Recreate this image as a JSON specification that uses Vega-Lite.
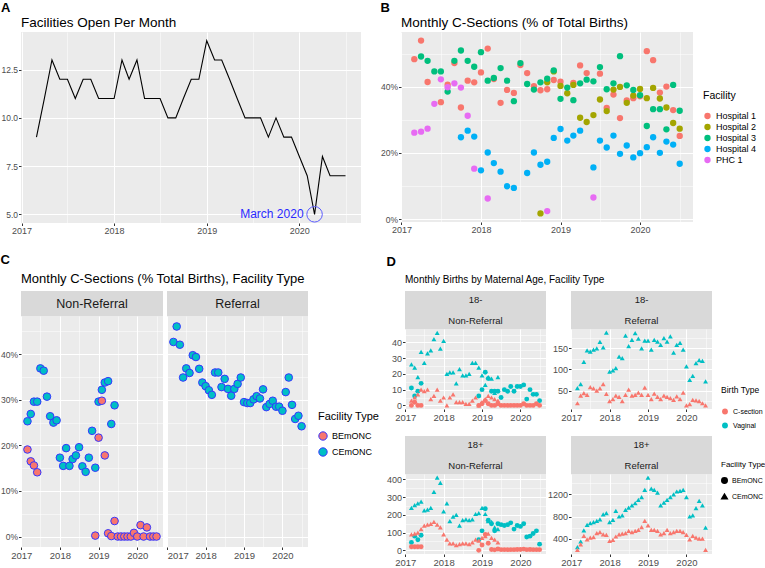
{
"$schema":"https://vega.github.io/schema/vega-lite/v6.json",
"padding":{"left":0,"top":1,"right":0,"bottom":0},
"background":"white",
"config":{
 "font":"Liberation Sans, Arial, sans-serif",
 "view":{"stroke":null},
 "axis":{"domain":false,"labelColor":"#4d4d4d","tickColor":"#333333","tickSize":2.5,"gridColor":"#ffffff","labelPadding":1,"labelFontSize":8.5},
 "title":{"color":"black","fontWeight":"normal"},
 "legend":{"titleFontWeight":"normal","titleColor":"black","labelColor":"black"}
},
"datasets":{
"a":[
{"d":"2017-03","v":9},{"d":"2017-04","v":11},{"d":"2017-05","v":13},{"d":"2017-06","v":12},{"d":"2017-07","v":12},{"d":"2017-08","v":11},{"d":"2017-09","v":12},{"d":"2017-10","v":12},{"d":"2017-11","v":11},{"d":"2017-12","v":11},
{"d":"2018-01","v":11},{"d":"2018-02","v":13},{"d":"2018-03","v":12},{"d":"2018-04","v":13},{"d":"2018-05","v":11},{"d":"2018-06","v":11},{"d":"2018-07","v":11},{"d":"2018-08","v":10},{"d":"2018-09","v":10},{"d":"2018-10","v":11},{"d":"2018-11","v":12},{"d":"2018-12","v":12},
{"d":"2019-01","v":14},{"d":"2019-02","v":13},{"d":"2019-03","v":13},{"d":"2019-04","v":12},{"d":"2019-05","v":11},{"d":"2019-06","v":10},{"d":"2019-07","v":10},{"d":"2019-08","v":10},{"d":"2019-09","v":9},{"d":"2019-10","v":10},{"d":"2019-11","v":9},{"d":"2019-12","v":9},
{"d":"2020-01","v":8},{"d":"2020-02","v":7},{"d":"2020-03","v":5},{"d":"2020-04","v":8},{"d":"2020-05","v":7},{"d":"2020-06","v":7},{"d":"2020-07","v":7}
],
"b":[
{"f":"Hospital 1","d":"2017-03","v":48.3},{"f":"Hospital 1","d":"2017-04","v":53.9},{"f":"Hospital 1","d":"2017-05","v":41.4},{"f":"Hospital 1","d":"2017-07","v":35.3},{"f":"Hospital 1","d":"2017-08","v":40.6},{"f":"Hospital 1","d":"2017-09","v":47.1},{"f":"Hospital 1","d":"2017-10","v":33.7},{"f":"Hospital 1","d":"2017-11","v":41.8},{"f":"Hospital 1","d":"2017-12","v":41.3},
{"f":"Hospital 1","d":"2018-01","v":44.3},{"f":"Hospital 1","d":"2018-02","v":51.5},{"f":"Hospital 1","d":"2018-03","v":42.3},{"f":"Hospital 1","d":"2018-04","v":35.1},{"f":"Hospital 1","d":"2018-05","v":39.0},{"f":"Hospital 1","d":"2018-06","v":38.1},{"f":"Hospital 1","d":"2018-07","v":46.5},{"f":"Hospital 1","d":"2018-08","v":44.1},{"f":"Hospital 1","d":"2018-09","v":40.1},{"f":"Hospital 1","d":"2018-10","v":38.9},{"f":"Hospital 1","d":"2018-11","v":39.2},{"f":"Hospital 1","d":"2018-12","v":42.0},
{"f":"Hospital 1","d":"2019-01","v":41.5},{"f":"Hospital 1","d":"2019-03","v":41.1},{"f":"Hospital 1","d":"2019-04","v":46.4},{"f":"Hospital 1","d":"2019-05","v":44.1},{"f":"Hospital 1","d":"2019-07","v":43.9},{"f":"Hospital 1","d":"2019-08","v":33.6},{"f":"Hospital 1","d":"2019-09","v":37.6},{"f":"Hospital 1","d":"2019-10","v":30.5},{"f":"Hospital 1","d":"2019-11","v":35.8},{"f":"Hospital 1","d":"2019-12","v":36.5},
{"f":"Hospital 1","d":"2020-01","v":37.1},{"f":"Hospital 1","d":"2020-02","v":50.7},{"f":"Hospital 1","d":"2020-03","v":48.0},{"f":"Hospital 1","d":"2020-04","v":38.2},{"f":"Hospital 1","d":"2020-05","v":40.0},{"f":"Hospital 1","d":"2020-06","v":32.9},{"f":"Hospital 1","d":"2020-07","v":25.1},
{"f":"Hospital 2","d":"2018-10","v":1.7},{"f":"Hospital 2","d":"2018-11","v":41.3},{"f":"Hospital 2","d":"2018-12","v":44.6},{"f":"Hospital 2","d":"2019-01","v":40.2},{"f":"Hospital 2","d":"2019-02","v":38.0},{"f":"Hospital 2","d":"2019-03","v":40.5},{"f":"Hospital 2","d":"2019-04","v":30.6},{"f":"Hospital 2","d":"2019-05","v":29.3},{"f":"Hospital 2","d":"2019-06","v":31.4},{"f":"Hospital 2","d":"2019-07","v":36.1},{"f":"Hospital 2","d":"2019-08","v":32.6},{"f":"Hospital 2","d":"2019-09","v":39.1},{"f":"Hospital 2","d":"2019-10","v":39.9},{"f":"Hospital 2","d":"2019-11","v":35.1},{"f":"Hospital 2","d":"2019-12","v":37.3},{"f":"Hospital 2","d":"2020-01","v":39.3},{"f":"Hospital 2","d":"2020-02","v":36.5},{"f":"Hospital 2","d":"2020-03","v":39.6},{"f":"Hospital 2","d":"2020-04","v":36.4},{"f":"Hospital 2","d":"2020-05","v":33.7},{"f":"Hospital 2","d":"2020-06","v":29.0},{"f":"Hospital 2","d":"2020-07","v":27.3},
{"f":"Hospital 3","d":"2017-04","v":49.1},{"f":"Hospital 3","d":"2017-05","v":47.8},{"f":"Hospital 3","d":"2017-06","v":44.6},{"f":"Hospital 3","d":"2017-07","v":44.6},{"f":"Hospital 3","d":"2017-08","v":38.5},{"f":"Hospital 3","d":"2017-09","v":47.8},{"f":"Hospital 3","d":"2017-10","v":50.9},{"f":"Hospital 3","d":"2017-11","v":47.8},{"f":"Hospital 3","d":"2017-12","v":46.0},
{"f":"Hospital 3","d":"2018-01","v":50.4},{"f":"Hospital 3","d":"2018-02","v":41.8},{"f":"Hospital 3","d":"2018-03","v":42.6},{"f":"Hospital 3","d":"2018-04","v":45.6},{"f":"Hospital 3","d":"2018-05","v":41.8},{"f":"Hospital 3","d":"2018-06","v":35.6},{"f":"Hospital 3","d":"2018-07","v":47.1},{"f":"Hospital 3","d":"2018-08","v":40.8},{"f":"Hospital 3","d":"2018-09","v":39.1},{"f":"Hospital 3","d":"2018-10","v":41.3},{"f":"Hospital 3","d":"2018-11","v":42.4},{"f":"Hospital 3","d":"2018-12","v":44.9},
{"f":"Hospital 3","d":"2019-01","v":36.3},{"f":"Hospital 3","d":"2019-02","v":39.7},{"f":"Hospital 3","d":"2019-03","v":35.9},{"f":"Hospital 3","d":"2019-04","v":41.0},{"f":"Hospital 3","d":"2019-05","v":42.1},{"f":"Hospital 3","d":"2019-06","v":41.6},{"f":"Hospital 3","d":"2019-07","v":45.9},{"f":"Hospital 3","d":"2019-08","v":39.2},{"f":"Hospital 3","d":"2019-09","v":41.0},{"f":"Hospital 3","d":"2019-10","v":49.2},{"f":"Hospital 3","d":"2019-11","v":40.4},{"f":"Hospital 3","d":"2019-12","v":39.0},
{"f":"Hospital 3","d":"2020-01","v":37.4},{"f":"Hospital 3","d":"2020-02","v":28.1},{"f":"Hospital 3","d":"2020-03","v":33.2},{"f":"Hospital 3","d":"2020-04","v":33.2},{"f":"Hospital 3","d":"2020-05","v":27.1},{"f":"Hospital 3","d":"2020-06","v":40.5},{"f":"Hospital 3","d":"2020-07","v":32.7},
{"f":"Hospital 4","d":"2017-10","v":24.7},{"f":"Hospital 4","d":"2017-11","v":26.7},{"f":"Hospital 4","d":"2017-12","v":24.9},{"f":"Hospital 4","d":"2018-01","v":14.7},{"f":"Hospital 4","d":"2018-02","v":20.1},{"f":"Hospital 4","d":"2018-03","v":16.9},{"f":"Hospital 4","d":"2018-04","v":14.3},{"f":"Hospital 4","d":"2018-05","v":9.9},{"f":"Hospital 4","d":"2018-06","v":9.4},{"f":"Hospital 4","d":"2018-08","v":13.9},{"f":"Hospital 4","d":"2018-09","v":20.1},{"f":"Hospital 4","d":"2018-10","v":16.4},{"f":"Hospital 4","d":"2018-11","v":17.3},{"f":"Hospital 4","d":"2018-12","v":24.5},
{"f":"Hospital 4","d":"2019-01","v":27.2},{"f":"Hospital 4","d":"2019-02","v":23.7},{"f":"Hospital 4","d":"2019-03","v":25.2},{"f":"Hospital 4","d":"2019-04","v":26.7},{"f":"Hospital 4","d":"2019-06","v":15.6},{"f":"Hospital 4","d":"2019-07","v":23.7},{"f":"Hospital 4","d":"2019-08","v":21.6},{"f":"Hospital 4","d":"2019-09","v":25.2},{"f":"Hospital 4","d":"2019-10","v":19.7},{"f":"Hospital 4","d":"2019-11","v":22.2},{"f":"Hospital 4","d":"2019-12","v":18.6},
{"f":"Hospital 4","d":"2020-01","v":19.9},{"f":"Hospital 4","d":"2020-02","v":21.7},{"f":"Hospital 4","d":"2020-03","v":24.7},{"f":"Hospital 4","d":"2020-04","v":20.0},{"f":"Hospital 4","d":"2020-05","v":23.4},{"f":"Hospital 4","d":"2020-06","v":22.5},{"f":"Hospital 4","d":"2020-07","v":16.7},
{"f":"PHC 1","d":"2017-03","v":26.1},{"f":"PHC 1","d":"2017-04","v":26.4},{"f":"PHC 1","d":"2017-05","v":27.3},{"f":"PHC 1","d":"2017-06","v":34.8},{"f":"PHC 1","d":"2017-07","v":42.2},{"f":"PHC 1","d":"2017-08","v":39.8},{"f":"PHC 1","d":"2017-09","v":41.0},{"f":"PHC 1","d":"2017-10","v":39.7},{"f":"PHC 1","d":"2017-11","v":31.2},{"f":"PHC 1","d":"2017-12","v":15.2},{"f":"PHC 1","d":"2018-02","v":6.2},{"f":"PHC 1","d":"2018-11","v":2.4},{"f":"PHC 1","d":"2019-06","v":6.5}
],
"c":[
{"p":"NR","f":"CEmONC","d":"2017-03","v":25.3},{"p":"NR","f":"CEmONC","d":"2017-04","v":26.9},{"p":"NR","f":"CEmONC","d":"2017-05","v":29.6},{"p":"NR","f":"CEmONC","d":"2017-06","v":29.6},{"p":"NR","f":"CEmONC","d":"2017-07","v":36.9},{"p":"NR","f":"CEmONC","d":"2017-08","v":36.4},{"p":"NR","f":"CEmONC","d":"2017-09","v":30.7},{"p":"NR","f":"CEmONC","d":"2017-10","v":26.4},{"p":"NR","f":"CEmONC","d":"2017-11","v":25.0},{"p":"NR","f":"CEmONC","d":"2017-12","v":25.5},
{"p":"NR","f":"CEmONC","d":"2018-01","v":17.3},{"p":"NR","f":"CEmONC","d":"2018-02","v":15.5},{"p":"NR","f":"CEmONC","d":"2018-03","v":19.4},{"p":"NR","f":"CEmONC","d":"2018-04","v":15.5},{"p":"NR","f":"CEmONC","d":"2018-05","v":17.0},{"p":"NR","f":"CEmONC","d":"2018-06","v":17.8},{"p":"NR","f":"CEmONC","d":"2018-07","v":19.6},{"p":"NR","f":"CEmONC","d":"2018-08","v":15.4},{"p":"NR","f":"CEmONC","d":"2018-09","v":14.2},{"p":"NR","f":"CEmONC","d":"2018-10","v":17.3},{"p":"NR","f":"CEmONC","d":"2018-11","v":23.2},{"p":"NR","f":"CEmONC","d":"2018-12","v":15.1},
{"p":"NR","f":"CEmONC","d":"2019-01","v":29.6},{"p":"NR","f":"CEmONC","d":"2019-02","v":32.2},{"p":"NR","f":"CEmONC","d":"2019-03","v":33.8},{"p":"NR","f":"CEmONC","d":"2019-04","v":34.1},{"p":"NR","f":"CEmONC","d":"2019-05","v":24.7},{"p":"NR","f":"CEmONC","d":"2019-06","v":28.8},
{"p":"NR","f":"BEmONC","d":"2017-03","v":19.1},{"p":"NR","f":"BEmONC","d":"2017-04","v":16.5},{"p":"NR","f":"BEmONC","d":"2017-05","v":15.6},{"p":"NR","f":"BEmONC","d":"2017-06","v":14.1},{"p":"NR","f":"BEmONC","d":"2018-12","v":0.2},{"p":"NR","f":"BEmONC","d":"2019-01","v":21.7},{"p":"NR","f":"BEmONC","d":"2019-02","v":29.8},{"p":"NR","f":"BEmONC","d":"2019-03","v":17.8},{"p":"NR","f":"BEmONC","d":"2019-04","v":0.7},{"p":"NR","f":"BEmONC","d":"2019-05","v":0.1},{"p":"NR","f":"BEmONC","d":"2019-06","v":3.4},{"p":"NR","f":"BEmONC","d":"2019-07","v":0},{"p":"NR","f":"BEmONC","d":"2019-08","v":0},{"p":"NR","f":"BEmONC","d":"2019-09","v":0},{"p":"NR","f":"BEmONC","d":"2019-10","v":0},{"p":"NR","f":"BEmONC","d":"2019-11","v":0},{"p":"NR","f":"BEmONC","d":"2019-12","v":0.8},{"p":"NR","f":"BEmONC","d":"2020-01","v":0},{"p":"NR","f":"BEmONC","d":"2020-02","v":2.5},{"p":"NR","f":"BEmONC","d":"2020-03","v":0},{"p":"NR","f":"BEmONC","d":"2020-04","v":2.0},{"p":"NR","f":"BEmONC","d":"2020-05","v":0},{"p":"NR","f":"BEmONC","d":"2020-06","v":0},{"p":"NR","f":"BEmONC","d":"2020-07","v":0},
{"p":"R","f":"CEmONC","d":"2017-03","v":42.7},{"p":"R","f":"CEmONC","d":"2017-04","v":46.1},{"p":"R","f":"CEmONC","d":"2017-05","v":42.1},{"p":"R","f":"CEmONC","d":"2017-06","v":34.9},{"p":"R","f":"CEmONC","d":"2017-07","v":36.9},{"p":"R","f":"CEmONC","d":"2017-08","v":35.9},{"p":"R","f":"CEmONC","d":"2017-09","v":39.8},{"p":"R","f":"CEmONC","d":"2017-10","v":39.4},{"p":"R","f":"CEmONC","d":"2017-11","v":36.8},{"p":"R","f":"CEmONC","d":"2017-12","v":33.8},
{"p":"R","f":"CEmONC","d":"2018-01","v":33.0},{"p":"R","f":"CEmONC","d":"2018-02","v":32.1},{"p":"R","f":"CEmONC","d":"2018-03","v":31.1},{"p":"R","f":"CEmONC","d":"2018-04","v":36.0},{"p":"R","f":"CEmONC","d":"2018-05","v":36.0},{"p":"R","f":"CEmONC","d":"2018-06","v":32.8},{"p":"R","f":"CEmONC","d":"2018-07","v":34.6},{"p":"R","f":"CEmONC","d":"2018-08","v":32.4},{"p":"R","f":"CEmONC","d":"2018-09","v":30.9},{"p":"R","f":"CEmONC","d":"2018-10","v":32.4},{"p":"R","f":"CEmONC","d":"2018-11","v":33.5},{"p":"R","f":"CEmONC","d":"2018-12","v":34.9},
{"p":"R","f":"CEmONC","d":"2019-01","v":29.5},{"p":"R","f":"CEmONC","d":"2019-02","v":29.3},{"p":"R","f":"CEmONC","d":"2019-03","v":29.3},{"p":"R","f":"CEmONC","d":"2019-04","v":30.1},{"p":"R","f":"CEmONC","d":"2019-05","v":30.8},{"p":"R","f":"CEmONC","d":"2019-06","v":30.3},{"p":"R","f":"CEmONC","d":"2019-07","v":32.3},{"p":"R","f":"CEmONC","d":"2019-08","v":28.4},{"p":"R","f":"CEmONC","d":"2019-09","v":29.1},{"p":"R","f":"CEmONC","d":"2019-10","v":29.8},{"p":"R","f":"CEmONC","d":"2019-11","v":28.5},{"p":"R","f":"CEmONC","d":"2019-12","v":28.5},
{"p":"R","f":"CEmONC","d":"2020-01","v":27.6},{"p":"R","f":"CEmONC","d":"2020-02","v":31.7},{"p":"R","f":"CEmONC","d":"2020-03","v":34.9},{"p":"R","f":"CEmONC","d":"2020-04","v":28.9},{"p":"R","f":"CEmONC","d":"2020-05","v":25.8},{"p":"R","f":"CEmONC","d":"2020-06","v":26.5},{"p":"R","f":"CEmONC","d":"2020-07","v":24.2}
],
"d":[
{"p":"TL","b":"Vaginal","f":"CEmONC","d":"2017-03","v":26},{"p":"TL","b":"Vaginal","f":"CEmONC","d":"2017-04","v":24},{"p":"TL","b":"Vaginal","f":"CEmONC","d":"2017-05","v":18},{"p":"TL","b":"Vaginal","f":"CEmONC","d":"2017-06","v":34},{"p":"TL","b":"Vaginal","f":"CEmONC","d":"2017-07","v":27},{"p":"TL","b":"Vaginal","f":"CEmONC","d":"2017-08","v":33},{"p":"TL","b":"Vaginal","f":"CEmONC","d":"2017-09","v":35},{"p":"TL","b":"Vaginal","f":"CEmONC","d":"2017-10","v":42},{"p":"TL","b":"Vaginal","f":"CEmONC","d":"2017-11","v":46},{"p":"TL","b":"Vaginal","f":"CEmONC","d":"2017-12","v":36},
{"p":"TL","b":"Vaginal","f":"CEmONC","d":"2018-01","v":41},{"p":"TL","b":"Vaginal","f":"CEmONC","d":"2018-02","v":20},{"p":"TL","b":"Vaginal","f":"CEmONC","d":"2018-03","v":21},{"p":"TL","b":"Vaginal","f":"CEmONC","d":"2018-04","v":21},{"p":"TL","b":"Vaginal","f":"CEmONC","d":"2018-05","v":14},{"p":"TL","b":"Vaginal","f":"CEmONC","d":"2018-06","v":23},{"p":"TL","b":"Vaginal","f":"CEmONC","d":"2018-07","v":19},{"p":"TL","b":"Vaginal","f":"CEmONC","d":"2018-08","v":19},{"p":"TL","b":"Vaginal","f":"CEmONC","d":"2018-09","v":20},{"p":"TL","b":"Vaginal","f":"CEmONC","d":"2018-10","v":27},{"p":"TL","b":"Vaginal","f":"CEmONC","d":"2018-11","v":27},{"p":"TL","b":"Vaginal","f":"CEmONC","d":"2018-12","v":24},
{"p":"TL","b":"Vaginal","f":"CEmONC","d":"2019-01","v":19},{"p":"TL","b":"Vaginal","f":"CEmONC","d":"2019-02","v":13},{"p":"TL","b":"Vaginal","f":"CEmONC","d":"2019-03","v":18},{"p":"TL","b":"Vaginal","f":"CEmONC","d":"2019-04","v":17},{"p":"TL","b":"Vaginal","f":"CEmONC","d":"2019-05","v":8},{"p":"TL","b":"Vaginal","f":"CEmONC","d":"2019-06","v":18},
{"p":"TL","b":"Vaginal","f":"BEmONC","d":"2017-03","v":11},{"p":"TL","b":"Vaginal","f":"BEmONC","d":"2017-04","v":6},{"p":"TL","b":"Vaginal","f":"BEmONC","d":"2017-05","v":9},{"p":"TL","b":"Vaginal","f":"BEmONC","d":"2017-06","v":14},{"p":"TL","b":"Vaginal","f":"BEmONC","d":"2018-12","v":6},{"p":"TL","b":"Vaginal","f":"BEmONC","d":"2019-01","v":10},{"p":"TL","b":"Vaginal","f":"BEmONC","d":"2019-02","v":21},{"p":"TL","b":"Vaginal","f":"BEmONC","d":"2019-03","v":17},{"p":"TL","b":"Vaginal","f":"BEmONC","d":"2019-04","v":9},{"p":"TL","b":"Vaginal","f":"BEmONC","d":"2019-05","v":9},{"p":"TL","b":"Vaginal","f":"BEmONC","d":"2019-06","v":9},{"p":"TL","b":"Vaginal","f":"BEmONC","d":"2019-07","v":5},{"p":"TL","b":"Vaginal","f":"BEmONC","d":"2019-08","v":10},{"p":"TL","b":"Vaginal","f":"BEmONC","d":"2019-09","v":9},{"p":"TL","b":"Vaginal","f":"BEmONC","d":"2019-10","v":12},{"p":"TL","b":"Vaginal","f":"BEmONC","d":"2019-11","v":9},{"p":"TL","b":"Vaginal","f":"BEmONC","d":"2019-12","v":12},{"p":"TL","b":"Vaginal","f":"BEmONC","d":"2020-01","v":12},{"p":"TL","b":"Vaginal","f":"BEmONC","d":"2020-02","v":13},{"p":"TL","b":"Vaginal","f":"BEmONC","d":"2020-03","v":4},{"p":"TL","b":"Vaginal","f":"BEmONC","d":"2020-04","v":10},{"p":"TL","b":"Vaginal","f":"BEmONC","d":"2020-05","v":7},{"p":"TL","b":"Vaginal","f":"BEmONC","d":"2020-06","v":7},{"p":"TL","b":"Vaginal","f":"BEmONC","d":"2020-07","v":3},
{"p":"TL","b":"C-section","f":"CEmONC","d":"2017-03","v":3},{"p":"TL","b":"C-section","f":"CEmONC","d":"2017-04","v":5},{"p":"TL","b":"C-section","f":"CEmONC","d":"2017-05","v":7},{"p":"TL","b":"C-section","f":"CEmONC","d":"2017-06","v":10},{"p":"TL","b":"C-section","f":"CEmONC","d":"2017-07","v":9},{"p":"TL","b":"C-section","f":"CEmONC","d":"2017-08","v":10},{"p":"TL","b":"C-section","f":"CEmONC","d":"2017-09","v":4},{"p":"TL","b":"C-section","f":"CEmONC","d":"2017-10","v":6},{"p":"TL","b":"C-section","f":"CEmONC","d":"2017-11","v":10},{"p":"TL","b":"C-section","f":"CEmONC","d":"2017-12","v":3},
{"p":"TL","b":"C-section","f":"CEmONC","d":"2018-01","v":5},{"p":"TL","b":"C-section","f":"CEmONC","d":"2018-02","v":0},{"p":"TL","b":"C-section","f":"CEmONC","d":"2018-03","v":5},{"p":"TL","b":"C-section","f":"CEmONC","d":"2018-04","v":7},{"p":"TL","b":"C-section","f":"CEmONC","d":"2018-05","v":2},{"p":"TL","b":"C-section","f":"CEmONC","d":"2018-06","v":2},{"p":"TL","b":"C-section","f":"CEmONC","d":"2018-07","v":2},{"p":"TL","b":"C-section","f":"CEmONC","d":"2018-08","v":1},{"p":"TL","b":"C-section","f":"CEmONC","d":"2018-09","v":1},{"p":"TL","b":"C-section","f":"CEmONC","d":"2018-10","v":3},{"p":"TL","b":"C-section","f":"CEmONC","d":"2018-11","v":5},{"p":"TL","b":"C-section","f":"CEmONC","d":"2018-12","v":0},
{"p":"TL","b":"C-section","f":"CEmONC","d":"2019-01","v":2},{"p":"TL","b":"C-section","f":"CEmONC","d":"2019-02","v":4},{"p":"TL","b":"C-section","f":"CEmONC","d":"2019-03","v":6},{"p":"TL","b":"C-section","f":"CEmONC","d":"2019-04","v":5},{"p":"TL","b":"C-section","f":"CEmONC","d":"2019-05","v":4},{"p":"TL","b":"C-section","f":"CEmONC","d":"2019-06","v":3},
{"p":"TL","b":"C-section","f":"BEmONC","d":"2017-03","v":0},{"p":"TL","b":"C-section","f":"BEmONC","d":"2017-04","v":2},{"p":"TL","b":"C-section","f":"BEmONC","d":"2017-05","v":0},{"p":"TL","b":"C-section","f":"BEmONC","d":"2017-06","v":0},{"p":"TL","b":"C-section","f":"BEmONC","d":"2018-12","v":0},{"p":"TL","b":"C-section","f":"BEmONC","d":"2019-01","v":1},{"p":"TL","b":"C-section","f":"BEmONC","d":"2019-02","v":3},{"p":"TL","b":"C-section","f":"BEmONC","d":"2019-03","v":1},{"p":"TL","b":"C-section","f":"BEmONC","d":"2019-04","v":0},{"p":"TL","b":"C-section","f":"BEmONC","d":"2019-05","v":0},{"p":"TL","b":"C-section","f":"BEmONC","d":"2019-06","v":1},{"p":"TL","b":"C-section","f":"BEmONC","d":"2019-07","v":0},{"p":"TL","b":"C-section","f":"BEmONC","d":"2019-08","v":0},{"p":"TL","b":"C-section","f":"BEmONC","d":"2019-09","v":0},{"p":"TL","b":"C-section","f":"BEmONC","d":"2019-10","v":0},{"p":"TL","b":"C-section","f":"BEmONC","d":"2019-11","v":0},{"p":"TL","b":"C-section","f":"BEmONC","d":"2019-12","v":0},{"p":"TL","b":"C-section","f":"BEmONC","d":"2020-01","v":0},{"p":"TL","b":"C-section","f":"BEmONC","d":"2020-02","v":1},{"p":"TL","b":"C-section","f":"BEmONC","d":"2020-03","v":0},{"p":"TL","b":"C-section","f":"BEmONC","d":"2020-04","v":0},{"p":"TL","b":"C-section","f":"BEmONC","d":"2020-05","v":0},{"p":"TL","b":"C-section","f":"BEmONC","d":"2020-06","v":1},{"p":"TL","b":"C-section","f":"BEmONC","d":"2020-07","v":0},
{"p":"TR","b":"Vaginal","f":"CEmONC","d":"2017-03","v":56},{"p":"TR","b":"Vaginal","f":"CEmONC","d":"2017-04","v":65},{"p":"TR","b":"Vaginal","f":"CEmONC","d":"2017-05","v":118},{"p":"TR","b":"Vaginal","f":"CEmONC","d":"2017-06","v":145},{"p":"TR","b":"Vaginal","f":"CEmONC","d":"2017-07","v":142},{"p":"TR","b":"Vaginal","f":"CEmONC","d":"2017-08","v":147},{"p":"TR","b":"Vaginal","f":"CEmONC","d":"2017-09","v":150},{"p":"TR","b":"Vaginal","f":"CEmONC","d":"2017-10","v":165},{"p":"TR","b":"Vaginal","f":"CEmONC","d":"2017-11","v":152},{"p":"TR","b":"Vaginal","f":"CEmONC","d":"2017-12","v":187},
{"p":"TR","b":"Vaginal","f":"CEmONC","d":"2018-01","v":95},{"p":"TR","b":"Vaginal","f":"CEmONC","d":"2018-02","v":98},{"p":"TR","b":"Vaginal","f":"CEmONC","d":"2018-03","v":103},{"p":"TR","b":"Vaginal","f":"CEmONC","d":"2018-04","v":130},{"p":"TR","b":"Vaginal","f":"CEmONC","d":"2018-05","v":127},{"p":"TR","b":"Vaginal","f":"CEmONC","d":"2018-06","v":180},{"p":"TR","b":"Vaginal","f":"CEmONC","d":"2018-07","v":155},{"p":"TR","b":"Vaginal","f":"CEmONC","d":"2018-08","v":170},{"p":"TR","b":"Vaginal","f":"CEmONC","d":"2018-09","v":186},{"p":"TR","b":"Vaginal","f":"CEmONC","d":"2018-10","v":173},{"p":"TR","b":"Vaginal","f":"CEmONC","d":"2018-11","v":150},{"p":"TR","b":"Vaginal","f":"CEmONC","d":"2018-12","v":168},
{"p":"TR","b":"Vaginal","f":"CEmONC","d":"2019-01","v":168},{"p":"TR","b":"Vaginal","f":"CEmONC","d":"2019-02","v":147},{"p":"TR","b":"Vaginal","f":"CEmONC","d":"2019-03","v":170},{"p":"TR","b":"Vaginal","f":"CEmONC","d":"2019-04","v":166},{"p":"TR","b":"Vaginal","f":"CEmONC","d":"2019-05","v":158},{"p":"TR","b":"Vaginal","f":"CEmONC","d":"2019-06","v":174},{"p":"TR","b":"Vaginal","f":"CEmONC","d":"2019-07","v":166},{"p":"TR","b":"Vaginal","f":"CEmONC","d":"2019-08","v":178},{"p":"TR","b":"Vaginal","f":"CEmONC","d":"2019-09","v":140},{"p":"TR","b":"Vaginal","f":"CEmONC","d":"2019-10","v":158},{"p":"TR","b":"Vaginal","f":"CEmONC","d":"2019-11","v":163},{"p":"TR","b":"Vaginal","f":"CEmONC","d":"2019-12","v":147},
{"p":"TR","b":"Vaginal","f":"CEmONC","d":"2020-01","v":107},{"p":"TR","b":"Vaginal","f":"CEmONC","d":"2020-02","v":75},{"p":"TR","b":"Vaginal","f":"CEmONC","d":"2020-03","v":85},{"p":"TR","b":"Vaginal","f":"CEmONC","d":"2020-04","v":115},{"p":"TR","b":"Vaginal","f":"CEmONC","d":"2020-05","v":122},{"p":"TR","b":"Vaginal","f":"CEmONC","d":"2020-06","v":120},{"p":"TR","b":"Vaginal","f":"CEmONC","d":"2020-07","v":72},
{"p":"TR","b":"C-section","f":"CEmONC","d":"2017-03","v":20},{"p":"TR","b":"C-section","f":"CEmONC","d":"2017-04","v":38},{"p":"TR","b":"C-section","f":"CEmONC","d":"2017-05","v":44},{"p":"TR","b":"C-section","f":"CEmONC","d":"2017-06","v":40},{"p":"TR","b":"C-section","f":"CEmONC","d":"2017-07","v":58},{"p":"TR","b":"C-section","f":"CEmONC","d":"2017-08","v":55},{"p":"TR","b":"C-section","f":"CEmONC","d":"2017-09","v":50},{"p":"TR","b":"C-section","f":"CEmONC","d":"2017-10","v":55},{"p":"TR","b":"C-section","f":"CEmONC","d":"2017-11","v":65},{"p":"TR","b":"C-section","f":"CEmONC","d":"2017-12","v":42},
{"p":"TR","b":"C-section","f":"CEmONC","d":"2018-01","v":25},{"p":"TR","b":"C-section","f":"CEmONC","d":"2018-02","v":30},{"p":"TR","b":"C-section","f":"CEmONC","d":"2018-03","v":38},{"p":"TR","b":"C-section","f":"CEmONC","d":"2018-04","v":35},{"p":"TR","b":"C-section","f":"CEmONC","d":"2018-05","v":25},{"p":"TR","b":"C-section","f":"CEmONC","d":"2018-06","v":40},{"p":"TR","b":"C-section","f":"CEmONC","d":"2018-07","v":52},{"p":"TR","b":"C-section","f":"CEmONC","d":"2018-08","v":38},{"p":"TR","b":"C-section","f":"CEmONC","d":"2018-09","v":40},{"p":"TR","b":"C-section","f":"CEmONC","d":"2018-10","v":45},{"p":"TR","b":"C-section","f":"CEmONC","d":"2018-11","v":40},{"p":"TR","b":"C-section","f":"CEmONC","d":"2018-12","v":57},
{"p":"TR","b":"C-section","f":"CEmONC","d":"2019-01","v":40},{"p":"TR","b":"C-section","f":"CEmONC","d":"2019-02","v":30},{"p":"TR","b":"C-section","f":"CEmONC","d":"2019-03","v":43},{"p":"TR","b":"C-section","f":"CEmONC","d":"2019-04","v":35},{"p":"TR","b":"C-section","f":"CEmONC","d":"2019-05","v":30},{"p":"TR","b":"C-section","f":"CEmONC","d":"2019-06","v":38},{"p":"TR","b":"C-section","f":"CEmONC","d":"2019-07","v":35},{"p":"TR","b":"C-section","f":"CEmONC","d":"2019-08","v":32},{"p":"TR","b":"C-section","f":"CEmONC","d":"2019-09","v":28},{"p":"TR","b":"C-section","f":"CEmONC","d":"2019-10","v":36},{"p":"TR","b":"C-section","f":"CEmONC","d":"2019-11","v":30},{"p":"TR","b":"C-section","f":"CEmONC","d":"2019-12","v":45},
{"p":"TR","b":"C-section","f":"CEmONC","d":"2020-01","v":15},{"p":"TR","b":"C-section","f":"CEmONC","d":"2020-02","v":18},{"p":"TR","b":"C-section","f":"CEmONC","d":"2020-03","v":28},{"p":"TR","b":"C-section","f":"CEmONC","d":"2020-04","v":27},{"p":"TR","b":"C-section","f":"CEmONC","d":"2020-05","v":25},{"p":"TR","b":"C-section","f":"CEmONC","d":"2020-06","v":20},{"p":"TR","b":"C-section","f":"CEmONC","d":"2020-07","v":15},
{"p":"BL","b":"Vaginal","f":"CEmONC","d":"2017-03","v":240},{"p":"BL","b":"Vaginal","f":"CEmONC","d":"2017-04","v":255},{"p":"BL","b":"Vaginal","f":"CEmONC","d":"2017-05","v":265},{"p":"BL","b":"Vaginal","f":"CEmONC","d":"2017-06","v":275},{"p":"BL","b":"Vaginal","f":"CEmONC","d":"2017-07","v":225},{"p":"BL","b":"Vaginal","f":"CEmONC","d":"2017-08","v":230},{"p":"BL","b":"Vaginal","f":"CEmONC","d":"2017-09","v":240},{"p":"BL","b":"Vaginal","f":"CEmONC","d":"2017-10","v":330},{"p":"BL","b":"Vaginal","f":"CEmONC","d":"2017-11","v":410},{"p":"BL","b":"Vaginal","f":"CEmONC","d":"2017-12","v":380},
{"p":"BL","b":"Vaginal","f":"CEmONC","d":"2018-01","v":220},{"p":"BL","b":"Vaginal","f":"CEmONC","d":"2018-02","v":265},{"p":"BL","b":"Vaginal","f":"CEmONC","d":"2018-03","v":165},{"p":"BL","b":"Vaginal","f":"CEmONC","d":"2018-04","v":190},{"p":"BL","b":"Vaginal","f":"CEmONC","d":"2018-05","v":200},{"p":"BL","b":"Vaginal","f":"CEmONC","d":"2018-06","v":140},{"p":"BL","b":"Vaginal","f":"CEmONC","d":"2018-07","v":170},{"p":"BL","b":"Vaginal","f":"CEmONC","d":"2018-08","v":175},{"p":"BL","b":"Vaginal","f":"CEmONC","d":"2018-09","v":170},{"p":"BL","b":"Vaginal","f":"CEmONC","d":"2018-10","v":175},{"p":"BL","b":"Vaginal","f":"CEmONC","d":"2018-11","v":205},{"p":"BL","b":"Vaginal","f":"CEmONC","d":"2018-12","v":210},
{"p":"BL","b":"Vaginal","f":"CEmONC","d":"2019-01","v":240},{"p":"BL","b":"Vaginal","f":"CEmONC","d":"2019-02","v":205},{"p":"BL","b":"Vaginal","f":"CEmONC","d":"2019-03","v":165},{"p":"BL","b":"Vaginal","f":"CEmONC","d":"2019-04","v":160},{"p":"BL","b":"Vaginal","f":"CEmONC","d":"2019-05","v":130},{"p":"BL","b":"Vaginal","f":"CEmONC","d":"2019-06","v":120},
{"p":"BL","b":"Vaginal","f":"BEmONC","d":"2017-03","v":45},{"p":"BL","b":"Vaginal","f":"BEmONC","d":"2017-04","v":80},{"p":"BL","b":"Vaginal","f":"BEmONC","d":"2017-05","v":60},{"p":"BL","b":"Vaginal","f":"BEmONC","d":"2017-06","v":85},{"p":"BL","b":"Vaginal","f":"BEmONC","d":"2018-12","v":60},{"p":"BL","b":"Vaginal","f":"BEmONC","d":"2019-01","v":110},{"p":"BL","b":"Vaginal","f":"BEmONC","d":"2019-02","v":235},{"p":"BL","b":"Vaginal","f":"BEmONC","d":"2019-03","v":170},{"p":"BL","b":"Vaginal","f":"BEmONC","d":"2019-04","v":150},{"p":"BL","b":"Vaginal","f":"BEmONC","d":"2019-05","v":110},{"p":"BL","b":"Vaginal","f":"BEmONC","d":"2019-06","v":150},{"p":"BL","b":"Vaginal","f":"BEmONC","d":"2019-07","v":145},{"p":"BL","b":"Vaginal","f":"BEmONC","d":"2019-08","v":140},{"p":"BL","b":"Vaginal","f":"BEmONC","d":"2019-09","v":145},{"p":"BL","b":"Vaginal","f":"BEmONC","d":"2019-10","v":155},{"p":"BL","b":"Vaginal","f":"BEmONC","d":"2019-11","v":120},{"p":"BL","b":"Vaginal","f":"BEmONC","d":"2019-12","v":140},{"p":"BL","b":"Vaginal","f":"BEmONC","d":"2020-01","v":135},{"p":"BL","b":"Vaginal","f":"BEmONC","d":"2020-02","v":150},{"p":"BL","b":"Vaginal","f":"BEmONC","d":"2020-03","v":75},{"p":"BL","b":"Vaginal","f":"BEmONC","d":"2020-04","v":80},{"p":"BL","b":"Vaginal","f":"BEmONC","d":"2020-05","v":95},{"p":"BL","b":"Vaginal","f":"BEmONC","d":"2020-06","v":110},{"p":"BL","b":"Vaginal","f":"BEmONC","d":"2020-07","v":35},
{"p":"BL","b":"C-section","f":"CEmONC","d":"2017-03","v":90},{"p":"BL","b":"C-section","f":"CEmONC","d":"2017-04","v":95},{"p":"BL","b":"C-section","f":"CEmONC","d":"2017-05","v":100},{"p":"BL","b":"C-section","f":"CEmONC","d":"2017-06","v":120},{"p":"BL","b":"C-section","f":"CEmONC","d":"2017-07","v":140},{"p":"BL","b":"C-section","f":"CEmONC","d":"2017-08","v":145},{"p":"BL","b":"C-section","f":"CEmONC","d":"2017-09","v":150},{"p":"BL","b":"C-section","f":"CEmONC","d":"2017-10","v":160},{"p":"BL","b":"C-section","f":"CEmONC","d":"2017-11","v":145},{"p":"BL","b":"C-section","f":"CEmONC","d":"2017-12","v":130},
{"p":"BL","b":"C-section","f":"CEmONC","d":"2018-01","v":90},{"p":"BL","b":"C-section","f":"CEmONC","d":"2018-02","v":60},{"p":"BL","b":"C-section","f":"CEmONC","d":"2018-03","v":40},{"p":"BL","b":"C-section","f":"CEmONC","d":"2018-04","v":40},{"p":"BL","b":"C-section","f":"CEmONC","d":"2018-05","v":30},{"p":"BL","b":"C-section","f":"CEmONC","d":"2018-06","v":35},{"p":"BL","b":"C-section","f":"CEmONC","d":"2018-07","v":40},{"p":"BL","b":"C-section","f":"CEmONC","d":"2018-08","v":40},{"p":"BL","b":"C-section","f":"CEmONC","d":"2018-09","v":35},{"p":"BL","b":"C-section","f":"CEmONC","d":"2018-10","v":45},{"p":"BL","b":"C-section","f":"CEmONC","d":"2018-11","v":60},{"p":"BL","b":"C-section","f":"CEmONC","d":"2018-12","v":55},
{"p":"BL","b":"C-section","f":"CEmONC","d":"2019-01","v":70},{"p":"BL","b":"C-section","f":"CEmONC","d":"2019-02","v":80},{"p":"BL","b":"C-section","f":"CEmONC","d":"2019-03","v":95},{"p":"BL","b":"C-section","f":"CEmONC","d":"2019-04","v":70},{"p":"BL","b":"C-section","f":"CEmONC","d":"2019-05","v":60},{"p":"BL","b":"C-section","f":"CEmONC","d":"2019-06","v":45},
{"p":"BL","b":"C-section","f":"BEmONC","d":"2017-03","v":20},{"p":"BL","b":"C-section","f":"BEmONC","d":"2017-04","v":20},{"p":"BL","b":"C-section","f":"BEmONC","d":"2017-05","v":20},{"p":"BL","b":"C-section","f":"BEmONC","d":"2017-06","v":20},{"p":"BL","b":"C-section","f":"BEmONC","d":"2018-12","v":0},{"p":"BL","b":"C-section","f":"BEmONC","d":"2019-01","v":30},{"p":"BL","b":"C-section","f":"BEmONC","d":"2019-02","v":90},{"p":"BL","b":"C-section","f":"BEmONC","d":"2019-03","v":40},{"p":"BL","b":"C-section","f":"BEmONC","d":"2019-04","v":5},{"p":"BL","b":"C-section","f":"BEmONC","d":"2019-05","v":3},{"p":"BL","b":"C-section","f":"BEmONC","d":"2019-06","v":8},{"p":"BL","b":"C-section","f":"BEmONC","d":"2019-07","v":4},{"p":"BL","b":"C-section","f":"BEmONC","d":"2019-08","v":4},{"p":"BL","b":"C-section","f":"BEmONC","d":"2019-09","v":4},{"p":"BL","b":"C-section","f":"BEmONC","d":"2019-10","v":4},{"p":"BL","b":"C-section","f":"BEmONC","d":"2019-11","v":4},{"p":"BL","b":"C-section","f":"BEmONC","d":"2019-12","v":5},{"p":"BL","b":"C-section","f":"BEmONC","d":"2020-01","v":5},{"p":"BL","b":"C-section","f":"BEmONC","d":"2020-02","v":7},{"p":"BL","b":"C-section","f":"BEmONC","d":"2020-03","v":4},{"p":"BL","b":"C-section","f":"BEmONC","d":"2020-04","v":5},{"p":"BL","b":"C-section","f":"BEmONC","d":"2020-05","v":4},{"p":"BL","b":"C-section","f":"BEmONC","d":"2020-06","v":4},{"p":"BL","b":"C-section","f":"BEmONC","d":"2020-07","v":4},
{"p":"BR","b":"Vaginal","f":"CEmONC","d":"2017-03","v":250},{"p":"BR","b":"Vaginal","f":"CEmONC","d":"2017-04","v":350},{"p":"BR","b":"Vaginal","f":"CEmONC","d":"2017-05","v":550},{"p":"BR","b":"Vaginal","f":"CEmONC","d":"2017-06","v":650},{"p":"BR","b":"Vaginal","f":"CEmONC","d":"2017-07","v":680},{"p":"BR","b":"Vaginal","f":"CEmONC","d":"2017-08","v":700},{"p":"BR","b":"Vaginal","f":"CEmONC","d":"2017-09","v":720},{"p":"BR","b":"Vaginal","f":"CEmONC","d":"2017-10","v":750},{"p":"BR","b":"Vaginal","f":"CEmONC","d":"2017-11","v":840},{"p":"BR","b":"Vaginal","f":"CEmONC","d":"2017-12","v":860},
{"p":"BR","b":"Vaginal","f":"CEmONC","d":"2018-01","v":700},{"p":"BR","b":"Vaginal","f":"CEmONC","d":"2018-02","v":740},{"p":"BR","b":"Vaginal","f":"CEmONC","d":"2018-03","v":900},{"p":"BR","b":"Vaginal","f":"CEmONC","d":"2018-04","v":800},{"p":"BR","b":"Vaginal","f":"CEmONC","d":"2018-05","v":820},{"p":"BR","b":"Vaginal","f":"CEmONC","d":"2018-06","v":920},{"p":"BR","b":"Vaginal","f":"CEmONC","d":"2018-07","v":960},{"p":"BR","b":"Vaginal","f":"CEmONC","d":"2018-08","v":1000},{"p":"BR","b":"Vaginal","f":"CEmONC","d":"2018-09","v":1040},{"p":"BR","b":"Vaginal","f":"CEmONC","d":"2018-10","v":1100},{"p":"BR","b":"Vaginal","f":"CEmONC","d":"2018-11","v":1150},{"p":"BR","b":"Vaginal","f":"CEmONC","d":"2018-12","v":1280},
{"p":"BR","b":"Vaginal","f":"CEmONC","d":"2019-01","v":1500},{"p":"BR","b":"Vaginal","f":"CEmONC","d":"2019-02","v":1300},{"p":"BR","b":"Vaginal","f":"CEmONC","d":"2019-03","v":1280},{"p":"BR","b":"Vaginal","f":"CEmONC","d":"2019-04","v":1230},{"p":"BR","b":"Vaginal","f":"CEmONC","d":"2019-05","v":1000},{"p":"BR","b":"Vaginal","f":"CEmONC","d":"2019-06","v":1050},{"p":"BR","b":"Vaginal","f":"CEmONC","d":"2019-07","v":1100},{"p":"BR","b":"Vaginal","f":"CEmONC","d":"2019-08","v":1150},{"p":"BR","b":"Vaginal","f":"CEmONC","d":"2019-09","v":1200},{"p":"BR","b":"Vaginal","f":"CEmONC","d":"2019-10","v":1250},{"p":"BR","b":"Vaginal","f":"CEmONC","d":"2019-11","v":1260},{"p":"BR","b":"Vaginal","f":"CEmONC","d":"2019-12","v":1280},
{"p":"BR","b":"Vaginal","f":"CEmONC","d":"2020-01","v":1150},{"p":"BR","b":"Vaginal","f":"CEmONC","d":"2020-02","v":800},{"p":"BR","b":"Vaginal","f":"CEmONC","d":"2020-03","v":820},{"p":"BR","b":"Vaginal","f":"CEmONC","d":"2020-04","v":950},{"p":"BR","b":"Vaginal","f":"CEmONC","d":"2020-05","v":1080},{"p":"BR","b":"Vaginal","f":"CEmONC","d":"2020-06","v":1000},{"p":"BR","b":"Vaginal","f":"CEmONC","d":"2020-07","v":600},
{"p":"BR","b":"C-section","f":"CEmONC","d":"2017-03","v":200},{"p":"BR","b":"C-section","f":"CEmONC","d":"2017-04","v":300},{"p":"BR","b":"C-section","f":"CEmONC","d":"2017-05","v":450},{"p":"BR","b":"C-section","f":"CEmONC","d":"2017-06","v":390},{"p":"BR","b":"C-section","f":"CEmONC","d":"2017-07","v":420},{"p":"BR","b":"C-section","f":"CEmONC","d":"2017-08","v":430},{"p":"BR","b":"C-section","f":"CEmONC","d":"2017-09","v":500},{"p":"BR","b":"C-section","f":"CEmONC","d":"2017-10","v":520},{"p":"BR","b":"C-section","f":"CEmONC","d":"2017-11","v":480},{"p":"BR","b":"C-section","f":"CEmONC","d":"2017-12","v":470},
{"p":"BR","b":"C-section","f":"CEmONC","d":"2018-01","v":360},{"p":"BR","b":"C-section","f":"CEmONC","d":"2018-02","v":380},{"p":"BR","b":"C-section","f":"CEmONC","d":"2018-03","v":440},{"p":"BR","b":"C-section","f":"CEmONC","d":"2018-04","v":480},{"p":"BR","b":"C-section","f":"CEmONC","d":"2018-05","v":490},{"p":"BR","b":"C-section","f":"CEmONC","d":"2018-06","v":500},{"p":"BR","b":"C-section","f":"CEmONC","d":"2018-07","v":540},{"p":"BR","b":"C-section","f":"CEmONC","d":"2018-08","v":520},{"p":"BR","b":"C-section","f":"CEmONC","d":"2018-09","v":540},{"p":"BR","b":"C-section","f":"CEmONC","d":"2018-10","v":560},{"p":"BR","b":"C-section","f":"CEmONC","d":"2018-11","v":610},{"p":"BR","b":"C-section","f":"CEmONC","d":"2018-12","v":720},
{"p":"BR","b":"C-section","f":"CEmONC","d":"2019-01","v":640},{"p":"BR","b":"C-section","f":"CEmONC","d":"2019-02","v":560},{"p":"BR","b":"C-section","f":"CEmONC","d":"2019-03","v":560},{"p":"BR","b":"C-section","f":"CEmONC","d":"2019-04","v":540},{"p":"BR","b":"C-section","f":"CEmONC","d":"2019-05","v":480},{"p":"BR","b":"C-section","f":"CEmONC","d":"2019-06","v":500},{"p":"BR","b":"C-section","f":"CEmONC","d":"2019-07","v":560},{"p":"BR","b":"C-section","f":"CEmONC","d":"2019-08","v":500},{"p":"BR","b":"C-section","f":"CEmONC","d":"2019-09","v":520},{"p":"BR","b":"C-section","f":"CEmONC","d":"2019-10","v":540},{"p":"BR","b":"C-section","f":"CEmONC","d":"2019-11","v":540},{"p":"BR","b":"C-section","f":"CEmONC","d":"2019-12","v":520},
{"p":"BR","b":"C-section","f":"CEmONC","d":"2020-01","v":470},{"p":"BR","b":"C-section","f":"CEmONC","d":"2020-02","v":390},{"p":"BR","b":"C-section","f":"CEmONC","d":"2020-03","v":450},{"p":"BR","b":"C-section","f":"CEmONC","d":"2020-04","v":420},{"p":"BR","b":"C-section","f":"CEmONC","d":"2020-05","v":400},{"p":"BR","b":"C-section","f":"CEmONC","d":"2020-06","v":400},{"p":"BR","b":"C-section","f":"CEmONC","d":"2020-07","v":200}
]
},
"spacing":18,
"resolve":{"scale":{"color":"independent","shape":"independent","x":"independent","y":"independent"},"legend":{"color":"independent","shape":"independent"}},
"vconcat":[
{"hconcat":[
 {"title":{"text":"A","anchor":"start","frame":"bounds","fontSize":13,"fontWeight":"bold","color":"black","offset":1},
  "vconcat":[{
   "title":{"text":"Facilities Open Per Month","anchor":"start","frame":"group","fontSize":13.5,"offset":3},
   "width":340,"height":191,"view":{"fill":"#ebebeb","stroke":null},
   "layer":[
    {"data":{"name":"a"},"mark":{"type":"line","color":"black","strokeWidth":1.1},
     "encoding":{
      "x":{"field":"d","type":"temporal","title":null,"scale":{"domain":[{"year":2016,"month":12,"date":30,"utc":true},{"year":2020,"month":8,"date":31,"utc":true}]},"axis":{"values":[{"year":2017,"month":1,"date":1,"utc":true},{"year":2017,"month":7,"date":1,"utc":true},{"year":2018,"month":1,"date":1,"utc":true},{"year":2018,"month":7,"date":1,"utc":true},{"year":2019,"month":1,"date":1,"utc":true},{"year":2019,"month":7,"date":1,"utc":true},{"year":2020,"month":1,"date":1,"utc":true},{"year":2020,"month":7,"date":1,"utc":true}],"labelExpr":"utcmonth(datum.value)==0 ? utcFormat(datum.value,'%Y') : ''","gridWidth":{"condition":{"test":"utcmonth(datum.value)==0","value":1.1},"value":0.5},"tickOpacity":{"condition":{"test":"utcmonth(datum.value)==0","value":1},"value":0},"labelFontSize":9,"labelFlush":false,"labelOverlap":false}},
      "y":{"field":"v","type":"quantitative","title":null,"scale":{"domain":[4.55,14.45],"nice":false,"zero":false},"axis":{"values":[5,6.25,7.5,8.75,10,11.25,12.5,13.75],"labelExpr":"datum.value % 2.5 == 0 ? format(datum.value,'.1f') : ''","gridWidth":{"condition":{"test":"datum.value % 2.5 == 0","value":1.1},"value":0.5},"tickOpacity":{"condition":{"test":"datum.value % 2.5 == 0","value":1},"value":0},"labelFontSize":8.5}}
     }},
    {"data":{"values":[{"d":"2020-03","v":5,"t":"March 2020"}]},"mark":{"type":"point","shape":"circle","filled":false,"size":240,"stroke":"#5c5cff","strokeWidth":1,"opacity":1},
     "encoding":{"x":{"field":"d","type":"temporal"},"y":{"field":"v","type":"quantitative"}}},
    {"data":{"values":[{"d":"2020-03","v":5,"t":"March 2020"}]},"mark":{"type":"text","align":"right","baseline":"middle","dx":-11,"fontSize":12,"color":"#2a2aff"},
     "encoding":{"x":{"field":"d","type":"temporal"},"y":{"field":"v","type":"quantitative"},"text":{"field":"t"}}}
   ]
  }]
 },
 {"title":{"text":"B","anchor":"start","frame":"bounds","fontSize":13,"fontWeight":"bold","color":"black","offset":1},
  "resolve":{"legend":{"color":"independent"}},
  "vconcat":[{
   "title":{"text":"Monthly C-Sections (% of Total Births)","anchor":"start","frame":"group","fontSize":13.5,"offset":3},
   "width":292,"height":190,"view":{"fill":"#ebebeb","stroke":null},
   "data":{"name":"b"},
   "mark":{"type":"point","filled":true,"size":40,"opacity":1},
   "encoding":{
    "x":{"field":"d","type":"temporal","title":null,"scale":{"domain":[{"year":2016,"month":12,"date":30,"utc":true},{"year":2020,"month":8,"date":31,"utc":true}]},"axis":{"values":[{"year":2017,"month":1,"date":1,"utc":true},{"year":2017,"month":7,"date":1,"utc":true},{"year":2018,"month":1,"date":1,"utc":true},{"year":2018,"month":7,"date":1,"utc":true},{"year":2019,"month":1,"date":1,"utc":true},{"year":2019,"month":7,"date":1,"utc":true},{"year":2020,"month":1,"date":1,"utc":true},{"year":2020,"month":7,"date":1,"utc":true}],"labelExpr":"utcmonth(datum.value)==0 ? utcFormat(datum.value,'%Y') : ''","gridWidth":{"condition":{"test":"utcmonth(datum.value)==0","value":1.1},"value":0.5},"tickOpacity":{"condition":{"test":"utcmonth(datum.value)==0","value":1},"value":0},"labelFontSize":9,"labelFlush":false,"labelOverlap":false}},
    "y":{"field":"v","type":"quantitative","title":null,"scale":{"domain":[-0.9,56.5],"nice":false,"zero":false},"axis":{"values":[0,10,20,30,40,50],"labelExpr":"datum.value % 20 == 0 ? datum.value + '%' : ''","gridWidth":{"condition":{"test":"datum.value % 20 == 0","value":1.1},"value":0.5},"tickOpacity":{"condition":{"test":"datum.value % 20 == 0","value":1},"value":0},"labelFontSize":8.5}},
    "color":{"field":"f","type":"nominal","scale":{"domain":["Hospital 1","Hospital 2","Hospital 3","Hospital 4","PHC 1"],"range":["#F8766D","#A3A500","#00BF7D","#00B0F6","#E76BF3"]},
     "legend":{"title":"Facility","orient":"none","legendX":302,"legendY":59,"titleFontSize":10.5,"labelFontSize":9,"symbolType":"circle","symbolSize":40,"rowPadding":1,"titlePadding":10}}
   }
  }]
 }
],"spacing":19,
 "resolve":{"scale":{"color":"independent","shape":"independent","x":"independent","y":"independent"},"legend":{"color":"independent","shape":"independent"}}},
{"hconcat":[
 {"title":{"text":"C","anchor":"start","frame":"bounds","fontSize":13,"fontWeight":"bold","color":"black","offset":6},
  "resolve":{"legend":{"color":"independent"}},
  "vconcat":[{
   "title":{"text":"Monthly C-Sections (% Total Births), Facility Type","anchor":"start","frame":"group","fontSize":13,"offset":5},
   "spacing":3,
   "resolve":{"scale":{"color":"shared","x":"independent","y":"independent"},"legend":{"color":"independent"}},
   "hconcat":[
    {"spacing":0,"bounds":"flush","resolve":{"scale":{"x":"independent","y":"independent"},"legend":{"color":"independent"}},
     "vconcat":[
      {"width":142,"height":25,"view":{"fill":"#d9d9d9","stroke":null},"data":{"values":[{"lab":"Non-Referral"}]},"mark":{"type":"text","fontSize":12.5,"color":"#1a1a1a"},"encoding":{"x":{"field":"lab","type":"nominal","axis":null},"text":{"field":"lab"}}},
      {"width":142,"height":231,"view":{"fill":"#ebebeb","stroke":null},"data":{"name":"c"},"transform":[{"filter":"datum.p=='NR'"}],
       "mark":{"type":"point","filled":true,"size":58,"opacity":1,"stroke":"#3535ff","strokeWidth":1},
       "encoding":{
        "x":{"field":"d","type":"temporal","title":null,"scale":{"domain":[{"year":2016,"month":12,"date":30,"utc":true},{"year":2020,"month":8,"date":31,"utc":true}]},"axis":{"values":[{"year":2017,"month":1,"date":1,"utc":true},{"year":2017,"month":7,"date":1,"utc":true},{"year":2018,"month":1,"date":1,"utc":true},{"year":2018,"month":7,"date":1,"utc":true},{"year":2019,"month":1,"date":1,"utc":true},{"year":2019,"month":7,"date":1,"utc":true},{"year":2020,"month":1,"date":1,"utc":true},{"year":2020,"month":7,"date":1,"utc":true}],"labelExpr":"utcmonth(datum.value)==0 ? utcFormat(datum.value,'%Y') : ''","gridWidth":{"condition":{"test":"utcmonth(datum.value)==0","value":1.1},"value":0.5},"tickOpacity":{"condition":{"test":"utcmonth(datum.value)==0","value":1},"value":0},"labelFontSize":9.5,"labelFlush":false,"labelOverlap":false}},
        "y":{"field":"v","type":"quantitative","title":null,"scale":{"domain":[-2.3,48.4],"nice":false,"zero":false},"axis":{"values":[0,5,10,15,20,25,30,35,40,45],"labelExpr":"datum.value % 10 == 0 ? datum.value + '%' : ''","gridWidth":{"condition":{"test":"datum.value % 10 == 0","value":1.1},"value":0.5},"tickOpacity":{"condition":{"test":"datum.value % 10 == 0","value":1},"value":0},"labelFontSize":8.5}},
        "color":{"field":"f","type":"nominal","scale":{"domain":["BEmONC","CEmONC"],"range":["#F8766D","#00BFC4"]},"legend":null}
       }}
     ]},
    {"spacing":0,"bounds":"flush","resolve":{"scale":{"x":"independent","y":"independent"},"legend":{"color":"independent"}},
     "vconcat":[
      {"width":141,"height":25,"view":{"fill":"#d9d9d9","stroke":null},"data":{"values":[{"lab":"Referral"}]},"mark":{"type":"text","fontSize":12.5,"color":"#1a1a1a"},"encoding":{"x":{"field":"lab","type":"nominal","axis":null},"text":{"field":"lab"}}},
      {"width":141,"height":231,"view":{"fill":"#ebebeb","stroke":null},"data":{"name":"c"},"transform":[{"filter":"datum.p=='R'"}],
       "mark":{"type":"point","filled":true,"size":58,"opacity":1,"stroke":"#3535ff","strokeWidth":1},
       "encoding":{
        "x":{"field":"d","type":"temporal","title":null,"scale":{"domain":[{"year":2016,"month":12,"date":30,"utc":true},{"year":2020,"month":8,"date":31,"utc":true}]},"axis":{"values":[{"year":2017,"month":1,"date":1,"utc":true},{"year":2017,"month":7,"date":1,"utc":true},{"year":2018,"month":1,"date":1,"utc":true},{"year":2018,"month":7,"date":1,"utc":true},{"year":2019,"month":1,"date":1,"utc":true},{"year":2019,"month":7,"date":1,"utc":true},{"year":2020,"month":1,"date":1,"utc":true},{"year":2020,"month":7,"date":1,"utc":true}],"labelExpr":"utcmonth(datum.value)==0 ? utcFormat(datum.value,'%Y') : ''","gridWidth":{"condition":{"test":"utcmonth(datum.value)==0","value":1.1},"value":0.5},"tickOpacity":{"condition":{"test":"utcmonth(datum.value)==0","value":1},"value":0},"labelFontSize":9.5,"labelFlush":true,"labelOverlap":false}},
        "y":{"field":"v","type":"quantitative","title":null,"scale":{"domain":[-2.3,48.4],"nice":false,"zero":false},"axis":{"values":[0,5,10,15,20,25,30,35,40,45],"labels":false,"ticks":false,"gridWidth":{"condition":{"test":"datum.value % 10 == 0","value":1.1},"value":0.5}}},
        "color":{"field":"f","type":"nominal","scale":{"domain":["BEmONC","CEmONC"],"range":["#F8766D","#00BFC4"]},
         "legend":{"title":"Facility Type","orient":"none","legendX":151,"legendY":95,"titleFontSize":11,"labelFontSize":9,"symbolType":"circle","symbolSize":70,"symbolStrokeColor":"#3535ff","symbolStrokeWidth":1,"rowPadding":2,"titlePadding":9}}
       }}
     ]}
   ]
  }]
 },
 {"title":{"text":"D","anchor":"start","frame":"bounds","fontSize":13,"fontWeight":"bold","color":"black","offset":6},
  "resolve":{"legend":{"color":"independent","shape":"independent"}},
  "vconcat":[{
   "title":{"text":"Monthly Births by Maternal Age, Facility Type","anchor":"start","frame":"group","fontSize":10,"offset":6},
   "columns":2,
   "spacing":{"row":7,"column":1},
   "resolve":{"scale":{"color":"shared","shape":"shared","x":"independent","y":"independent"},"legend":{"color":"independent","shape":"independent"}},
   "concat":[
      {"spacing":0,"bounds":"flush","resolve":{"scale":{"x":"independent","y":"independent"},"legend":{"color":"independent","shape":"independent"}},"vconcat":[
        {"width":141,"height":38,"view":{"fill":"#d9d9d9","stroke":null},"data":{"values":[{"lab":"18-\nNon-Referral"}]},"mark":{"type":"text","fontSize":9.5,"lineBreak":"\n","lineHeight":21,"dy":-10,"color":"#1a1a1a"},"encoding":{"x":{"field":"lab","type":"nominal","axis":null},"text":{"field":"lab"}}},
        {"width":141,"height":80,"view":{"fill":"#ebebeb","stroke":null},"data":{"name":"d"},"transform":[{"filter":"datum.p=='TL'"}],"mark":{"type":"point","filled":true,"size":24,"opacity":1},
         "encoding":{
          "x":{"field":"d","type":"temporal","title":null,"scale":{"domain":[{"year":2016,"month":12,"date":30,"utc":true},{"year":2020,"month":8,"date":31,"utc":true}]},"axis":{"values":[{"year":2017,"month":1,"date":1,"utc":true},{"year":2017,"month":7,"date":1,"utc":true},{"year":2018,"month":1,"date":1,"utc":true},{"year":2018,"month":7,"date":1,"utc":true},{"year":2019,"month":1,"date":1,"utc":true},{"year":2019,"month":7,"date":1,"utc":true},{"year":2020,"month":1,"date":1,"utc":true},{"year":2020,"month":7,"date":1,"utc":true}],"labelExpr":"utcmonth(datum.value)==0 ? utcFormat(datum.value,'%Y') : ''","gridWidth":{"condition":{"test":"utcmonth(datum.value)==0","value":1.1},"value":0.5},"tickOpacity":{"condition":{"test":"utcmonth(datum.value)==0","value":1},"value":0},"labelFontSize":9.5,"labelFlush":false,"labelOverlap":false}},
          "y":{"field":"v","type":"quantitative","title":null,"scale":{"domain":[-2.3,48.5],"nice":false,"zero":false},"axis":{"values":[0,5,10,15,20,25,30,35,40,45],"labelExpr":"datum.value % 10 == 0 ? datum.value : ''","gridWidth":{"condition":{"test":"datum.value % 10 == 0","value":1.1},"value":0.5},"tickOpacity":{"condition":{"test":"datum.value % 10 == 0","value":1},"value":0},"labelFontSize":9}},
          "color":{"field":"b","type":"nominal","scale":{"domain":["C-section","Vaginal"],"range":["#F8766D","#00BFC4"]},"legend":null},
          "shape":{"field":"f","type":"nominal","scale":{"domain":["BEmONC","CEmONC"],"range":["circle","triangle-up"]},"legend":null}
         }}
      ]},
      {"spacing":0,"bounds":"flush","resolve":{"scale":{"x":"independent","y":"independent"},"legend":{"color":"independent","shape":"independent"}},"vconcat":[
        {"width":141,"height":38,"view":{"fill":"#d9d9d9","stroke":null},"data":{"values":[{"lab":"18-\nReferral"}]},"mark":{"type":"text","fontSize":9.5,"lineBreak":"\n","lineHeight":21,"dy":-10,"color":"#1a1a1a"},"encoding":{"x":{"field":"lab","type":"nominal","axis":null},"text":{"field":"lab"}}},
        {"width":141,"height":80,"view":{"fill":"#ebebeb","stroke":null},"data":{"name":"d"},"transform":[{"filter":"datum.p=='TR'"}],"mark":{"type":"point","filled":true,"size":24,"opacity":1},
         "encoding":{
          "x":{"field":"d","type":"temporal","title":null,"scale":{"domain":[{"year":2016,"month":12,"date":30,"utc":true},{"year":2020,"month":8,"date":31,"utc":true}]},"axis":{"values":[{"year":2017,"month":1,"date":1,"utc":true},{"year":2017,"month":7,"date":1,"utc":true},{"year":2018,"month":1,"date":1,"utc":true},{"year":2018,"month":7,"date":1,"utc":true},{"year":2019,"month":1,"date":1,"utc":true},{"year":2019,"month":7,"date":1,"utc":true},{"year":2020,"month":1,"date":1,"utc":true},{"year":2020,"month":7,"date":1,"utc":true}],"labelExpr":"utcmonth(datum.value)==0 ? utcFormat(datum.value,'%Y') : ''","gridWidth":{"condition":{"test":"utcmonth(datum.value)==0","value":1.1},"value":0.5},"tickOpacity":{"condition":{"test":"utcmonth(datum.value)==0","value":1},"value":0},"labelFontSize":9.5,"labelFlush":false,"labelOverlap":false}},
          "y":{"field":"v","type":"quantitative","title":null,"scale":{"domain":[6.4,195.6],"nice":false,"zero":false},"axis":{"values":[25,50,75,100,125,150,175],"labelExpr":"datum.value % 50 == 0 ? datum.value : ''","gridWidth":{"condition":{"test":"datum.value % 50 == 0","value":1.1},"value":0.5},"tickOpacity":{"condition":{"test":"datum.value % 50 == 0","value":1},"value":0},"labelFontSize":9}},
          "color":{"field":"b","type":"nominal","scale":{"domain":["C-section","Vaginal"],"range":["#F8766D","#00BFC4"]},
           "legend":{"title":"Birth Type","orient":"none","legendX":150,"legendY":57,"titleFontSize":8.5,"labelFontSize":7,"symbolType":"circle","symbolSize":34,"rowPadding":7,"titlePadding":13,"labelOffset":4}},
          "shape":{"field":"f","type":"nominal","scale":{"domain":["BEmONC","CEmONC"],"range":["circle","triangle-up"]},"legend":null}
         }}
      ]},
      {"spacing":0,"bounds":"flush","resolve":{"scale":{"x":"independent","y":"independent"},"legend":{"color":"independent","shape":"independent"}},"vconcat":[
        {"width":141,"height":38,"view":{"fill":"#d9d9d9","stroke":null},"data":{"values":[{"lab":"18+\nNon-Referral"}]},"mark":{"type":"text","fontSize":9.5,"lineBreak":"\n","lineHeight":21,"dy":-10,"color":"#1a1a1a"},"encoding":{"x":{"field":"lab","type":"nominal","axis":null},"text":{"field":"lab"}}},
        {"width":141,"height":80,"view":{"fill":"#ebebeb","stroke":null},"data":{"name":"d"},"transform":[{"filter":"datum.p=='BL'"}],"mark":{"type":"point","filled":true,"size":24,"opacity":1},
         "encoding":{
          "x":{"field":"d","type":"temporal","title":null,"scale":{"domain":[{"year":2016,"month":12,"date":30,"utc":true},{"year":2020,"month":8,"date":31,"utc":true}]},"axis":{"values":[{"year":2017,"month":1,"date":1,"utc":true},{"year":2017,"month":7,"date":1,"utc":true},{"year":2018,"month":1,"date":1,"utc":true},{"year":2018,"month":7,"date":1,"utc":true},{"year":2019,"month":1,"date":1,"utc":true},{"year":2019,"month":7,"date":1,"utc":true},{"year":2020,"month":1,"date":1,"utc":true},{"year":2020,"month":7,"date":1,"utc":true}],"labelExpr":"utcmonth(datum.value)==0 ? utcFormat(datum.value,'%Y') : ''","gridWidth":{"condition":{"test":"utcmonth(datum.value)==0","value":1.1},"value":0.5},"tickOpacity":{"condition":{"test":"utcmonth(datum.value)==0","value":1},"value":0},"labelFontSize":9.5,"labelFlush":false,"labelOverlap":false}},
          "y":{"field":"v","type":"quantitative","title":null,"scale":{"domain":[-20.5,430.5],"nice":false,"zero":false},"axis":{"values":[0,50,100,150,200,250,300,350,400],"labelExpr":"datum.value % 100 == 0 ? datum.value : ''","gridWidth":{"condition":{"test":"datum.value % 100 == 0","value":1.1},"value":0.5},"tickOpacity":{"condition":{"test":"datum.value % 100 == 0","value":1},"value":0},"labelFontSize":9}},
          "color":{"field":"b","type":"nominal","scale":{"domain":["C-section","Vaginal"],"range":["#F8766D","#00BFC4"]},"legend":null},
          "shape":{"field":"f","type":"nominal","scale":{"domain":["BEmONC","CEmONC"],"range":["circle","triangle-up"]},"legend":null}
         }}
      ]},
      {"spacing":0,"bounds":"flush","resolve":{"scale":{"x":"independent","y":"independent"},"legend":{"color":"independent","shape":"independent"}},"vconcat":[
        {"width":141,"height":38,"view":{"fill":"#d9d9d9","stroke":null},"data":{"values":[{"lab":"18+\nReferral"}]},"mark":{"type":"text","fontSize":9.5,"lineBreak":"\n","lineHeight":21,"dy":-10,"color":"#1a1a1a"},"encoding":{"x":{"field":"lab","type":"nominal","axis":null},"text":{"field":"lab"}}},
        {"width":141,"height":80,"view":{"fill":"#ebebeb","stroke":null},"data":{"name":"d"},"transform":[{"filter":"datum.p=='BR'"}],"mark":{"type":"point","filled":true,"size":24,"opacity":1},
         "encoding":{
          "x":{"field":"d","type":"temporal","title":null,"scale":{"domain":[{"year":2016,"month":12,"date":30,"utc":true},{"year":2020,"month":8,"date":31,"utc":true}]},"axis":{"values":[{"year":2017,"month":1,"date":1,"utc":true},{"year":2017,"month":7,"date":1,"utc":true},{"year":2018,"month":1,"date":1,"utc":true},{"year":2018,"month":7,"date":1,"utc":true},{"year":2019,"month":1,"date":1,"utc":true},{"year":2019,"month":7,"date":1,"utc":true},{"year":2020,"month":1,"date":1,"utc":true},{"year":2020,"month":7,"date":1,"utc":true}],"labelExpr":"utcmonth(datum.value)==0 ? utcFormat(datum.value,'%Y') : ''","gridWidth":{"condition":{"test":"utcmonth(datum.value)==0","value":1.1},"value":0.5},"tickOpacity":{"condition":{"test":"utcmonth(datum.value)==0","value":1},"value":0},"labelFontSize":9.5,"labelFlush":false,"labelOverlap":false}},
          "y":{"field":"v","type":"quantitative","title":null,"scale":{"domain":[125,1565],"nice":false,"zero":false},"axis":{"values":[200,400,600,800,1000,1200,1400],"labelExpr":"datum.value % 400 == 0 ? datum.value : ''","gridWidth":{"condition":{"test":"datum.value % 400 == 0","value":1.1},"value":0.5},"tickOpacity":{"condition":{"test":"datum.value % 400 == 0","value":1},"value":0},"labelFontSize":9}},
          "color":{"field":"b","type":"nominal","scale":{"domain":["C-section","Vaginal"],"range":["#F8766D","#00BFC4"]},"legend":null},
          "shape":{"field":"f","type":"nominal","scale":{"domain":["BEmONC","CEmONC"],"range":["circle","triangle-up"]},
           "legend":{"title":"Facility Type","orient":"none","legendX":150,"legendY":-13,"titleFontSize":8,"labelFontSize":7,"symbolSize":30,"symbolFillColor":"black","symbolStrokeColor":"black","rowPadding":4,"titlePadding":8,"labelOffset":4}}
         }}
      ]}
   ]
  }]
 }
],"spacing":6,
 "resolve":{"scale":{"color":"independent","shape":"independent","x":"independent","y":"independent"},"legend":{"color":"independent","shape":"independent"}}}
]
}
